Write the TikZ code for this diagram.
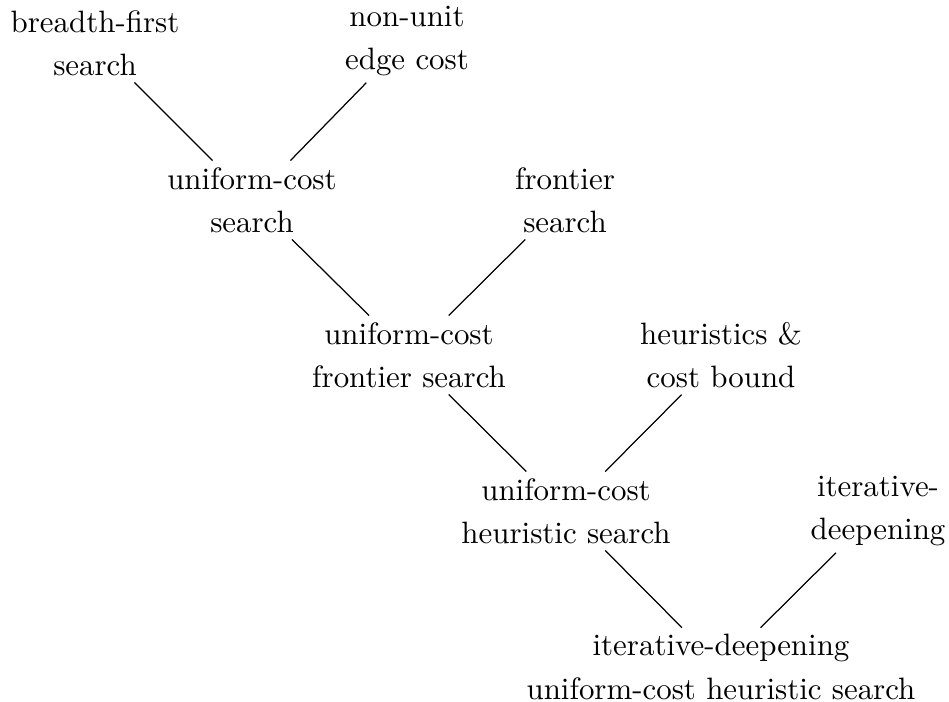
\documentclass[tikz,border=0pt]{standalone}
\begin{document}
\begin{tikzpicture}[x=0.3236pt,y=-0.3236pt,
  algo/.style={align=center,inner sep=2pt,font=\fontsize{10}{14}\selectfont},
  link/.style={draw=black,line width=0.4pt}]
\useasboundingbox (0,0) rectangle (949,702);
\node[algo] (bfs) at (95,43) {breadth-first\\search};
\node[algo] (nuec) at (407,41) {non-unit\\edge cost};
\node[algo] (ucs) at (252,200) {uniform-cost\\search};
\node[algo] (fs) at (565,200) {frontier\\search};
\node[algo] (ucfs) at (409,355) {uniform-cost\\frontier search};
\node[algo] (hcb) at (721,355) {heuristics \&\\cost bound};
\node[algo] (uchs) at (566,511) {uniform-cost\\heuristic search};
\node[algo] (id) at (878,511) {iterative-\\deepening};
\node[algo] (iduchs) at (721,667) {iterative-deepening\\uniform-cost heuristic search};
\draw[link] (bfs) -- (ucs);
\draw[link] (nuec) -- (ucs);
\draw[link] (ucs) -- (ucfs);
\draw[link] (fs) -- (ucfs);
\draw[link] (ucfs) -- (uchs);
\draw[link] (hcb) -- (uchs);
\draw[link] (uchs) -- (iduchs);
\draw[link] (id) -- (iduchs);
\end{tikzpicture}
\end{document}
